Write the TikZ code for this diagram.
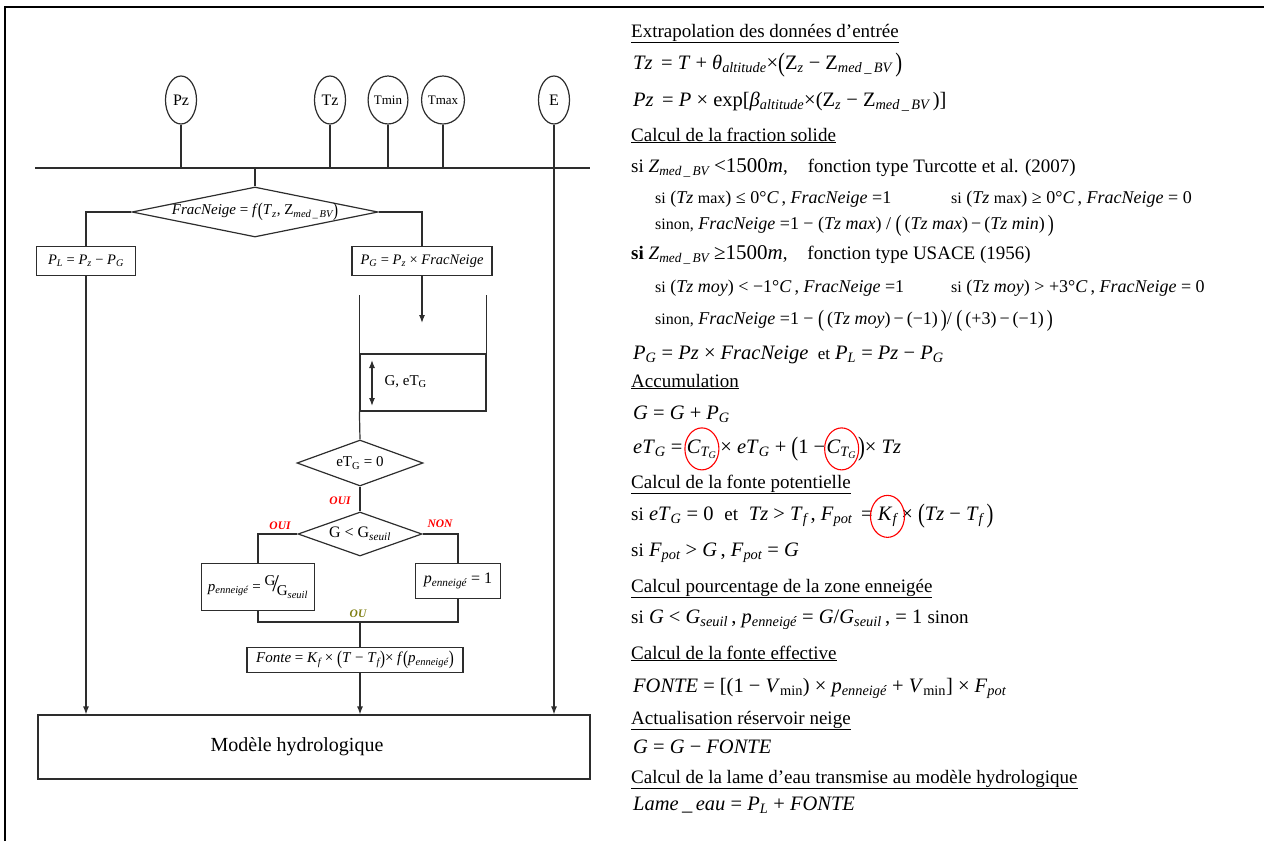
\documentclass[tikz,border=0pt]{standalone}
\usepackage{fontspec}
\setmainfont{Liberation Serif}
\usepackage{graphicx}
\usepackage{tikz}
\usetikzlibrary{positioning}
\usetikzlibrary{shapes.geometric}
\usetikzlibrary{arrows.meta}
\usetikzlibrary{calc}
\definecolor{oucol}{RGB}{128,128,20}
\definecolor{linecol}{RGB}{45,45,45}
\newcommand{\iv}[1]{\textit{#1}}
\newcommand{\ssub}[1]{\textsubscript{\itshape #1}}
\newcommand{\lpar}{\raisebox{-0.12em}{\scalebox{1}[1.3]{(}}}
\newcommand{\rpar}{\raisebox{-0.12em}{\scalebox{1}[1.3]{)}}}
\newcommand{\zw}[1]{\makebox[0pt]{#1}}
\newcommand{\fsz}[1]{\fontsize{#1}{#1}\selectfont}
\newcommand{\sm}[1]{{\fsz{16}#1}}

\begin{document}
\begin{tikzpicture}[x=1pt, y=-1pt,
  ln/.style={draw=linecol, line width=1.2pt},
  arr/.style={ln, -{Latex[length=8pt, width=6pt]}},
  dbl/.style={ln, {Latex[length=8pt, width=6pt]}-{Latex[length=8pt, width=6pt]}},
  inp/.style={ln, ellipse, minimum width=31pt, minimum height=48pt, inner sep=0pt, font=\fsz{16}},
  blk/.style={ln, rectangle, inner sep=0pt, font=\fsz{14.5}},
  dia/.style={ln, diamond, inner sep=0pt, font=\fsz{15}},
  yes/.style={text=red, font=\fsz{11.5}\bfseries\itshape, inner sep=1pt},
  ttl/.style={anchor=base west, inner sep=0pt, font=\fsz{19}},
  fml/.style={anchor=base west, inner sep=0pt, font=\fsz{20.5}},
  sml/.style={anchor=base west, inner sep=0pt, font=\fsz{18}},
  rc/.style={draw=red, line width=1.1pt}]
  \useasboundingbox (0,0) rectangle (1264,841);
  \draw[line width=2.5pt] (5,841) -- (5,7) -- (1264,7);

  \node[inp] (pz) at (181,100) {Pz};
  \node[inp] (tz) at (330,100) {Tz};
  \node[inp, font=\fsz{13}] (tmin) at (388,100) {Tmin};
  \node[inp, font=\fsz{13}] (tmax) at (443,100) {Tmax};
  \node[inp] (e) at (554,100) {E};
  \coordinate (busw) at (35,168);
  \coordinate (buse) at (590,168);
  \draw[ln] (busw) -- (buse);
  \foreach \n in {pz,tz,tmin,tmax}
    \draw[ln] (\n.south) -- (\n.south |- busw);

  \node[dia, minimum width=246pt, minimum height=50pt] (frac) at (255,212)
    {\zw{\iv{FracNeige} = \iv{f}\lpar\iv{T}\ssub{z}, Z\ssub{med\,\_\,BV}\rpar}};
  \draw[ln] (frac.north |- busw) -- (frac.north);
  \node[blk, minimum width=99pt, minimum height=29pt] (pl) at (86,261)
    {\iv{P}\ssub{L} = \iv{P}\ssub{z} − \iv{P}\ssub{G}};
  \node[blk, minimum width=140pt, minimum height=29pt] (pg) at (422,261)
    {\iv{P}\ssub{G} = \iv{P}\ssub{z} × \iv{FracNeige}};
  \draw[ln] (frac.west) -| (pl.north);
  \draw[ln] (frac.east) -| (pg.north);

  \node[blk, minimum width=126pt, minimum height=57pt] (res) at (423,382.5) {};
  \draw[ln] (res.north west) -- ++(0,-58);
  \draw[ln] (res.north east) -- ++(0,-58);
  \coordinate (resin) at (422,323);
  \draw[arr] (pg.south) -- (resin);
  \draw[dbl] (372,360) -- (372,406);
  \node[anchor=west, font=\fsz{15}] (gtxt) at (381,382) {G, eT\textsubscript{G}};

  \node[dia, minimum width=126pt, minimum height=46pt] (etg) at (360,463)
    {\zw{eT\textsubscript{G} = 0}};
  \draw[ln] (res.south west) -- (etg.north);
  \node[dia, minimum width=124pt, minimum height=44pt, font=\fsz{16}] (gs) at (360,534)
    {\zw{G < G\ssub{seuil}}};
  \draw[ln] (etg.south) -- (gs.north);
  \node[yes] (oui1) at (340,501) {OUI};

  \node[blk, minimum width=113pt, minimum height=47pt, font=\fsz{15}] (pe1) at (258,587)
    {\iv{p}\ssub{enneigé} = \raisebox{0.4em}{G}\hspace{-0.2em}\scalebox{1.6}{/}\hspace{-0.15em}\raisebox{-0.3em}{G\ssub{seuil}}};
  \node[blk, minimum width=85pt, minimum height=35pt, font=\fsz{16}] (pe2) at (458,581)
    {\iv{p}\ssub{enneigé} = 1};
  \draw[ln] (gs.west) -| (pe1.north);
  \draw[ln] (gs.east) -| (pe2.north);
  \node[yes] (oui2) at (280,526) {OUI};
  \node[yes] (non) at (440,524) {NON};
  \coordinate (ou) at (360,622);
  \draw[ln] (pe1.south) |- (ou) -| (pe2.south);
  \node[yes, text=oucol] (oulab) at (358,614) {OU};

  \node[blk, minimum width=216pt, minimum height=25pt, font=\fsz{15}] (fonte) at (355,660)
    {\iv{Fonte} = \iv{K}\ssub{f} × \lpar\iv{T} − \iv{T}\ssub{f}\rpar × \iv{f}\lpar\iv{p}\ssub{enneigé}\rpar};
  \draw[ln] (ou) -- (ou |- fonte.north);

  \node[blk, minimum width=552pt, minimum height=64pt] (model) at (314,747) {};
  \node[font=\fsz{20}] (modtxt) at (297,747) {Modèle hydrologique};
  \draw[arr] (pl.south) -- (pl.south |- model.north);
  \draw[arr] (ou |- fonte.south) -- (ou |- model.north);
  \draw[arr] (e.south) -- (e.south |- model.north);

  \node[ttl] (h1) at (631,37) {\underline{Extrapolation des données d’entrée}};
  \node[fml] (f1) at (633,69) {\iv{Tz}\, = \iv{T} + \iv{θ}\ssub{altitude}×\lpar Z\ssub{z} − Z\ssub{med\,\_\,BV}\,\rpar};
  \node[fml] (f2) at (633,106) {\iv{Pz}\, = \iv{P} × exp[\iv{β}\ssub{altitude}×(Z\ssub{z} − Z\ssub{med\,\_\,BV}\,)]};
  \node[ttl] (h2) at (631,141) {\underline{Calcul de la fraction solide}};
  \node[ttl] (f3) at (631,172) {si \iv{Z}\ssub{med\,\_\,BV} {\fsz{21}<1500\iv{m}},\hspace{0.8em} fonction type Turcotte et al. (2007)};
  \node[sml] (f4a) at (655,203) {\sm{si} (\iv{Tz} \sm{max}) ≤ 0°\iv{C}\,, \iv{FracNeige} =1};
  \node[sml] (f4b) at (951,203) {\sm{si} (\iv{Tz} \sm{max}) ≥ 0°\iv{C}\,, \iv{FracNeige} = 0};
  \node[sml] (f5) at (655,229) {\sm{sinon,} \iv{FracNeige} =1 − (\iv{Tz max}) / \lpar\,(\iv{Tz max})\,−\,(\iv{Tz min})\,\rpar};
  \node[ttl] (f6) at (631,259) {\textbf{si} \iv{Z}\ssub{med\,\_\,BV} {\fsz{21}≥1500\iv{m}},\hspace{0.8em} fonction type USACE (1956)};
  \node[sml] (f7a) at (655,292) {\sm{si} (\iv{Tz moy}) < −1°\iv{C}\,, \iv{FracNeige} =1};
  \node[sml] (f7b) at (951,292) {\sm{si} (\iv{Tz moy}) > +3°\iv{C}\,, \iv{FracNeige} = 0};
  \node[sml] (f8) at (655,324) {\sm{sinon,} \iv{FracNeige} =1 − \lpar\,(\iv{Tz moy})\,−\,(−1)\,\rpar / \lpar\,(+3)\,−\,(−1)\,\rpar};
  \node[fml] (f9) at (633,359) {\iv{P}\ssub{G} = \iv{Pz} × \iv{FracNeige} {\fsz{17} et} \iv{P}\ssub{L} = \iv{Pz} − \iv{P}\ssub{G}};
  \node[ttl] (h3) at (631,387) {\underline{Accumulation}};
  \node[fml] (f10) at (633,419) {\iv{G} = \iv{G} + \iv{P}\ssub{G}};
  \node[fml] (f11a) at (633,453) {\iv{eT}\ssub{G} =};
  \node[fml, base right=4pt of f11a] (ctg1) {\iv{C}\ssub{T\textsubscript{G}}};
  \node[fml, base right=3pt of ctg1] (f11b) {× \iv{eT}\ssub{G} + \lpar 1 −};
  \node[fml, base right=1pt of f11b] (ctg2) {\iv{C}\ssub{T\textsubscript{G}}};
  \node[fml, base right=1pt of ctg2] (f11c) {\rpar × \iv{Tz}};
  \draw[rc] (ctg1) ellipse [x radius=17pt, y radius=21pt];
  \draw[rc] (ctg2) ellipse [x radius=17pt, y radius=21pt];
  \node[ttl] (h4) at (631,488) {\underline{Calcul de la fonte potentielle}};
  \node[fml] (f12a) at (631,520) {{\fsz{19}si} \iv{eT}\ssub{G} = 0\; {\fsz{19}et}\; \iv{Tz} > \iv{T}\ssub{f}\,, \iv{F}\ssub{pot} \,=};
  \node[fml, base right=5pt of f12a] (kf) {\iv{K}\ssub{f}};
  \node[fml, base right=4pt of kf] (f12b) {× \lpar\iv{Tz} − \iv{T}\ssub{f}\,\rpar};
  \draw[rc] (kf) ellipse [x radius=17pt, y radius=21pt];
  \node[fml] (f13) at (631,556) {{\fsz{19}si} \iv{F}\ssub{pot} > \iv{G}\,, \iv{F}\ssub{pot} = \iv{G}};
  \node[ttl] (h5) at (631,592) {\underline{Calcul pourcentage de la zone enneigée}};
  \node[fml] (f14) at (631,623) {{\fsz{19}si} \iv{G} < \iv{G}\ssub{seuil}\,, \iv{p}\ssub{enneigé} = \iv{G}/\iv{G}\ssub{seuil}\,, = 1 {\fsz{19}sinon}};
  \node[ttl] (h6) at (631,659) {\underline{Calcul de la fonte effective}};
  \node[fml] (f15) at (633,692) {\iv{FONTE} = [(1 − \iv{V}\textsubscript{min}) × \iv{p}\ssub{enneigé} + \iv{V}\textsubscript{min}] × \iv{F}\ssub{pot}};
  \node[ttl] (h7) at (631,724) {\underline{Actualisation réservoir neige}};
  \node[fml] (f16) at (633,753) {\iv{G} = \iv{G} − \iv{FONTE}};
  \node[ttl] (h8) at (631,783) {\underline{Calcul de la lame d’eau transmise au modèle hydrologique}};
  \node[fml] (f17) at (633,810) {\iv{Lame\,\_\,eau} = \iv{P}\ssub{L} + \iv{FONTE}};
\end{tikzpicture}
\end{document}
